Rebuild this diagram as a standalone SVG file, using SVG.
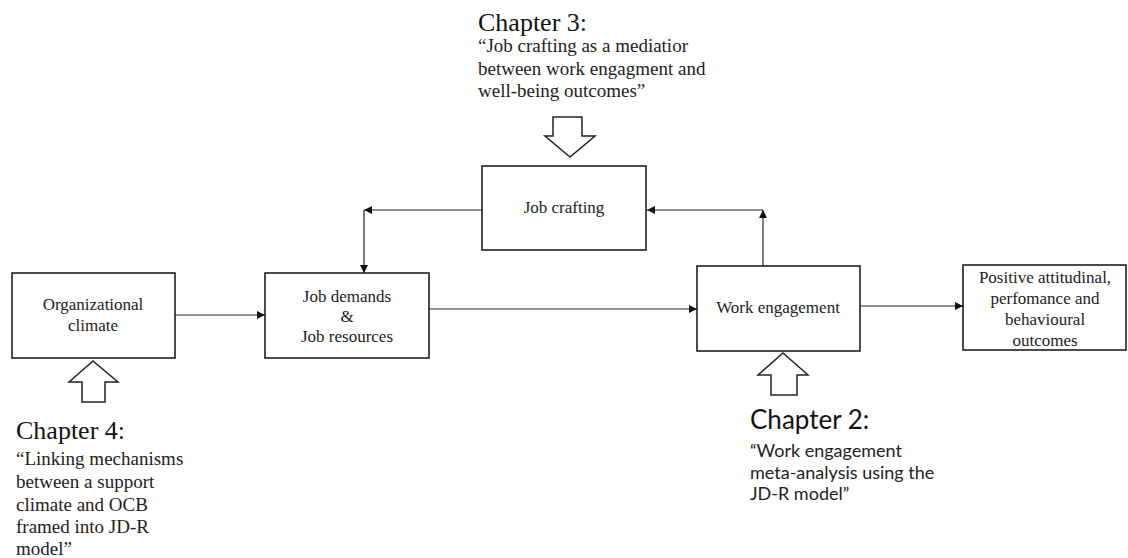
<svg xmlns="http://www.w3.org/2000/svg" width="1128" height="558" viewBox="0 0 1128 558">
<style>
.box{fill:#fff;stroke:#111;stroke-width:1.5}
.blk{fill:#fff;stroke:#222;stroke-width:1.5;stroke-linejoin:miter}
.con{fill:none;stroke:#222;stroke-width:1.2}
.ser{font-family:"Times New Roman","Liberation Serif",Times,serif}
.nt{font-size:17px;fill:#222;text-anchor:middle}
.ch{font-size:26px;fill:#111}
.cq{font-size:19px;fill:#222}
.ch2{font-family:Lato,"Liberation Sans",sans-serif;font-size:26px;fill:#111}
.cq2{font-family:Lato,"Liberation Sans",sans-serif;font-size:18px;fill:#222}
</style>
<defs>
<marker id="ah" viewBox="0 0 10 10" refX="10" refY="5" markerWidth="8" markerHeight="8" markerUnits="userSpaceOnUse" orient="auto">
<path d="M0,0 L10,5 L0,10 z" fill="#111"/>
</marker>
</defs>
<g id="connectors">
<line class="con" x1="175" y1="315" x2="265" y2="315" marker-end="url(#ah)"/>
<line class="con" x1="429" y1="309" x2="697" y2="309" marker-end="url(#ah)"/>
<line class="con" x1="860" y1="306" x2="963" y2="306" marker-end="url(#ah)"/>
<line class="con" x1="763" y1="266" x2="763" y2="210" marker-end="url(#ah)"/>
<line class="con" x1="763" y1="210" x2="647" y2="210" marker-end="url(#ah)"/>
<line class="con" x1="482" y1="210" x2="364" y2="210" marker-end="url(#ah)"/>
<line class="con" x1="364" y1="210" x2="364" y2="273" marker-end="url(#ah)"/>
</g>
<g id="org-climate">
<rect class="box" x="12" y="273" width="163" height="85"/>
<text class="nt ser" x="93" y="310">Organizational</text>
<text class="nt ser" x="93" y="331">climate</text>
</g>
<g id="job-demands">
<rect class="box" x="265" y="273" width="164" height="85"/>
<text class="nt ser" x="347" y="302">Job demands</text>
<text class="nt ser" x="347" y="322">&amp;</text>
<text class="nt ser" x="347" y="342">Job resources</text>
</g>
<g id="job-crafting">
<rect class="box" x="482" y="166" width="164" height="84"/>
<text class="nt ser" x="564" y="213">Job crafting</text>
</g>
<g id="work-engagement">
<rect class="box" x="697" y="266" width="163" height="85"/>
<text class="nt ser" x="778" y="313">Work engagement</text>
</g>
<g id="outcomes">
<rect class="box" x="963" y="265" width="163" height="85"/>
<text class="nt ser" x="1045" y="283">Positive attitudinal,</text>
<text class="nt ser" x="1045" y="304">perfomance and</text>
<text class="nt ser" x="1045" y="325">behavioural</text>
<text class="nt ser" x="1045" y="346">outcomes</text>
</g>
<g id="chapter3">
<polygon class="blk" points="553,117 582,117 582,136 595,136 570,157 545,136 553,136"/>
<text class="ch ser" x="478" y="31">Chapter 3:</text>
<text class="cq ser" x="478" y="52">“Job crafting as a mediatior</text>
<text class="cq ser" x="478" y="74.5">between work engagment and</text>
<text class="cq ser" x="478" y="97">well-being outcomes”</text>
</g>
<g id="chapter4">
<polygon class="blk" points="93,361 118,382 105,382 105,402 82,402 82,382 69,382"/>
<text class="ch ser" x="16" y="439">Chapter 4:</text>
<text class="cq ser" x="16" y="465">“Linking mechanisms</text>
<text class="cq ser" x="16" y="488">between a support</text>
<text class="cq ser" x="16" y="511">climate and OCB</text>
<text class="cq ser" x="16" y="533">framed into JD-R</text>
<text class="cq ser" x="16" y="555">model”</text>
</g>
<g id="chapter2">
<polygon class="blk" points="783,353 808,375 797,375 797,395 771,395 771,375 758,375"/>
<text class="ch2" x="750" y="429">Chapter 2:</text>
<text class="cq2" x="750" y="457">“Work engagement</text>
<text class="cq2" x="750" y="478.5">meta-analysis using the</text>
<text class="cq2" x="750" y="500">JD-R model”</text>
</g>
</svg>
